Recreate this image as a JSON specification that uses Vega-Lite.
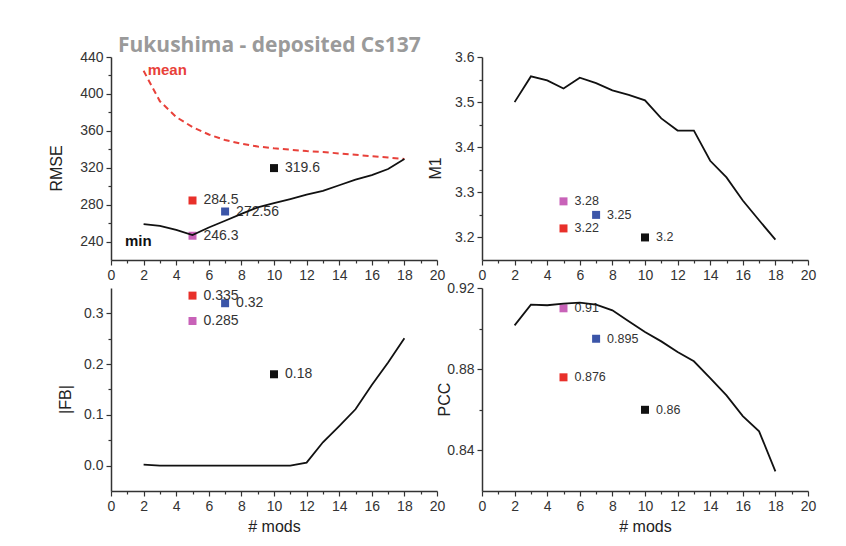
{
  "$schema": "https://vega.github.io/schema/vega-lite/v6.json",
  "background": "white",
  "padding": {"left": 48, "top": 35, "right": 5, "bottom": 5},
  "columns": 2,
  "spacing": {"row": 28, "column": 45},
  "bounds": "flush",
  "config": {
    "view": {"stroke": null},
    "font": "Liberation Sans",
    "axis": {
      "grid": false,
      "domainColor": "#333",
      "domainWidth": 1.5,
      "tickColor": "#333",
      "tickWidth": 1.2,
      "labelFont": "Liberation Sans",
      "labelFontSize": 14,
      "labelColor": "#333",
      "labelPadding": 3,
      "labelFlush": false,
      "labelOverlap": false,
      "titleFont": "Liberation Sans",
      "titleFontSize": 16,
      "titleFontWeight": "normal",
      "titleColor": "#222"
    },
    "axisY": {"titleY": 111}
  },
  "concat": [
    {
      "width": 326,
      "height": 203,
      "title": {"text": "Fukushima - deposited Cs137", "anchor": "start", "frame": "group", "dx": 7, "offset": -6, "font": "Open Sans", "fontSize": 21, "fontWeight": "bold", "color": "#9a9a9a"},
      "encoding": {
        "x": {"field": "n", "type": "quantitative", "scale": {"domain": [0, 20], "nice": false},
          "axis": {"values": [0,1,2,3,4,5,6,7,8,9,10,11,12,13,14,15,16,17,18,19,20], "labelExpr": "datum.value % 2 === 0 ? datum.label : ''", "tickSize": {"condition": {"test": "datum.value % 2 === 0", "value": 5}, "value": 3}, "title": null}},
        "y": {"field": "v", "type": "quantitative", "scale": {"domain": [220, 440], "nice": false, "zero": false},
          "axis": {"values": [240,260,280,300,320,340,360,380,400,420,440], "labelExpr": "datum.value % 40 === 0 ? datum.label : ''", "tickSize": {"condition": {"test": "datum.value % 40 === 0", "value": 5}, "value": 3}, "title": "RMSE", "titlePadding": 15}}
      },
      "layer": [
        {"data": {"values": [
          {"n": 5, "v": 284.5, "label": "284.5", "model": "red"},
          {"n": 7, "v": 272.56, "label": "272.56", "model": "blue"},
          {"n": 5, "v": 246.3, "label": "246.3", "model": "pink"},
          {"n": 10, "v": 319.6, "label": "319.6", "model": "black"}
        ]},
         "layer": [
           {"mark": {"type": "square", "size": 64, "opacity": 1}, "encoding": {"color": {"field": "model", "type": "nominal", "scale": {"domain": ["red", "blue", "pink", "black"], "range": ["#e8302a", "#3b55a8", "#c862b8", "#111111"]}, "legend": null}}},
           {"mark": {"type": "text", "align": "left", "baseline": "middle", "dx": 11, "fontSize": 14, "color": "#333"}, "encoding": {"text": {"field": "label"}}}
         ]},
        {"data": {"values": [
          {"n": 2, "v": 425}, {"n": 3, "v": 392}, {"n": 4, "v": 375}, {"n": 5, "v": 364}, {"n": 6, "v": 356}, {"n": 7, "v": 350}, {"n": 8, "v": 346}, {"n": 9, "v": 343}, {"n": 10, "v": 341}, {"n": 11, "v": 339.5}, {"n": 12, "v": 338}, {"n": 13, "v": 337}, {"n": 14, "v": 335.5}, {"n": 15, "v": 334}, {"n": 16, "v": 332.5}, {"n": 17, "v": 331}, {"n": 18, "v": 329.5}
        ]}, "mark": {"type": "line", "color": "#e8413a", "strokeDash": [6, 4], "strokeWidth": 2}},
        {"data": {"values": [
          {"n": 2, "v": 258.8}, {"n": 3, "v": 257}, {"n": 4, "v": 252.7}, {"n": 5, "v": 247}, {"n": 6, "v": 255.2}, {"n": 7, "v": 262.5}, {"n": 8, "v": 270}, {"n": 9, "v": 277}, {"n": 10, "v": 281.6}, {"n": 11, "v": 286}, {"n": 12, "v": 290.8}, {"n": 13, "v": 295}, {"n": 14, "v": 301}, {"n": 15, "v": 307}, {"n": 16, "v": 312}, {"n": 17, "v": 318.6}, {"n": 18, "v": 329.5}
        ]}, "mark": {"type": "line", "color": "#111", "strokeWidth": 1.8}},
        {"data": {"values": [{"n": 2.25, "v": 426, "note": "mean"}]}, "mark": {"type": "text", "align": "left", "baseline": "middle", "fontSize": 15, "fontWeight": "bold", "color": "#e8413a"}, "encoding": {"text": {"field": "note"}}},
        {"data": {"values": [{"n": 0.86, "v": 241, "note": "min"}]}, "mark": {"type": "text", "align": "left", "baseline": "middle", "fontSize": 15, "fontWeight": "bold", "color": "#111"}, "encoding": {"text": {"field": "note"}}}
      ]
    },
    {
      "width": 326,
      "height": 203,
      "encoding": {
        "x": {"field": "n", "type": "quantitative", "scale": {"domain": [0, 20], "nice": false},
          "axis": {"values": [0,1,2,3,4,5,6,7,8,9,10,11,12,13,14,15,16,17,18,19,20], "labelExpr": "datum.value % 2 === 0 ? datum.label : ''", "tickSize": {"condition": {"test": "datum.value % 2 === 0", "value": 5}, "value": 3}, "title": null}},
        "y": {"field": "v", "type": "quantitative", "scale": {"domain": [3.15, 3.6], "nice": false, "zero": false},
          "axis": {"values": [3.2,3.25,3.3,3.35,3.4,3.45,3.5,3.55,3.6], "format": ".1f", "labelExpr": "round(datum.value*100) % 10 === 0 ? datum.label : ''", "tickSize": {"condition": {"test": "round(datum.value*100) % 10 === 0", "value": 5}, "value": 3}, "title": "M1", "titlePadding": 11}}
      },
      "layer": [
        {"data": {"values": [
          {"n": 5, "v": 3.28, "label": "3.28", "model": "pink"},
          {"n": 7, "v": 3.25, "label": "3.25", "model": "blue"},
          {"n": 5, "v": 3.22, "label": "3.22", "model": "red"},
          {"n": 10, "v": 3.2, "label": "3.2", "model": "black"}
        ]},
         "layer": [
           {"mark": {"type": "square", "size": 64, "opacity": 1}, "encoding": {"color": {"field": "model", "type": "nominal", "legend": null}}},
           {"mark": {"type": "text", "align": "left", "baseline": "middle", "dx": 11, "fontSize": 12.5, "color": "#333"}, "encoding": {"text": {"field": "label"}}}
         ]},
        {"data": {"values": [
          {"n": 2, "v": 3.5}, {"n": 3, "v": 3.557}, {"n": 4, "v": 3.548}, {"n": 5, "v": 3.53}, {"n": 6, "v": 3.554}, {"n": 7, "v": 3.542}, {"n": 8, "v": 3.526}, {"n": 9, "v": 3.516}, {"n": 10, "v": 3.504}, {"n": 11, "v": 3.464}, {"n": 12, "v": 3.437}, {"n": 13, "v": 3.437}, {"n": 14, "v": 3.37}, {"n": 15, "v": 3.333}, {"n": 16, "v": 3.282}, {"n": 17, "v": 3.238}, {"n": 18, "v": 3.195}
        ]}, "mark": {"type": "line", "color": "#111", "strokeWidth": 1.8}}
      ]
    },
    {
      "width": 326,
      "height": 203,
      "encoding": {
        "x": {"field": "n", "type": "quantitative", "scale": {"domain": [0, 20], "nice": false},
          "axis": {"values": [0,1,2,3,4,5,6,7,8,9,10,11,12,13,14,15,16,17,18,19,20], "labelExpr": "datum.value % 2 === 0 ? datum.label : ''", "tickSize": {"condition": {"test": "datum.value % 2 === 0", "value": 5}, "value": 3}, "title": "# mods", "titlePadding": 5}},
        "y": {"field": "v", "type": "quantitative", "scale": {"domain": [-0.05, 0.35], "nice": false, "zero": false},
          "axis": {"values": [0,0.05,0.1,0.15,0.2,0.25,0.3], "format": ".1f", "labelExpr": "round(datum.value*100) % 10 === 0 ? datum.label : ''", "tickSize": {"condition": {"test": "round(datum.value*100) % 10 === 0", "value": 5}, "value": 3}, "title": "|FB|", "titlePadding": 10}}
      },
      "layer": [
        {"data": {"values": [
          {"n": 5, "v": 0.335, "label": "0.335", "model": "red"},
          {"n": 7, "v": 0.32, "label": "0.32", "model": "blue"},
          {"n": 5, "v": 0.285, "label": "0.285", "model": "pink"},
          {"n": 10, "v": 0.18, "label": "0.18", "model": "black"}
        ]},
         "layer": [
           {"mark": {"type": "square", "size": 64, "opacity": 1}, "encoding": {"color": {"field": "model", "type": "nominal", "legend": null}}},
           {"mark": {"type": "text", "align": "left", "baseline": "middle", "dx": 11, "fontSize": 14, "color": "#333"}, "encoding": {"text": {"field": "label"}}}
         ]},
        {"data": {"values": [
          {"n": 2, "v": 0.002}, {"n": 3, "v": 0}, {"n": 4, "v": 0}, {"n": 5, "v": 0}, {"n": 6, "v": 0}, {"n": 7, "v": 0}, {"n": 8, "v": 0}, {"n": 9, "v": 0}, {"n": 10, "v": 0}, {"n": 11, "v": 0}, {"n": 12, "v": 0.006}, {"n": 13, "v": 0.046}, {"n": 14, "v": 0.078}, {"n": 15, "v": 0.111}, {"n": 16, "v": 0.159}, {"n": 17, "v": 0.203}, {"n": 18, "v": 0.251}
        ]}, "mark": {"type": "line", "color": "#111", "strokeWidth": 1.8}}
      ]
    },
    {
      "width": 326,
      "height": 203,
      "encoding": {
        "x": {"field": "n", "type": "quantitative", "scale": {"domain": [0, 20], "nice": false},
          "axis": {"values": [0,1,2,3,4,5,6,7,8,9,10,11,12,13,14,15,16,17,18,19,20], "labelExpr": "datum.value % 2 === 0 ? datum.label : ''", "tickSize": {"condition": {"test": "datum.value % 2 === 0", "value": 5}, "value": 3}, "title": "# mods", "titlePadding": 5}},
        "y": {"field": "v", "type": "quantitative", "scale": {"domain": [0.82, 0.92], "nice": false, "zero": false},
          "axis": {"values": [0.84,0.86,0.88,0.9,0.92], "format": ".2f", "labelExpr": "round(datum.value*100) % 4 === 0 ? datum.label : ''", "tickSize": {"condition": {"test": "round(datum.value*100) % 4 === 0", "value": 5}, "value": 3}, "title": "PCC", "titlePadding": -6}}
      },
      "layer": [
        {"data": {"values": [
          {"n": 5, "v": 0.91, "label": "0.91", "model": "pink"},
          {"n": 7, "v": 0.895, "label": "0.895", "model": "blue"},
          {"n": 5, "v": 0.876, "label": "0.876", "model": "red"},
          {"n": 10, "v": 0.86, "label": "0.86", "model": "black"}
        ]},
         "layer": [
           {"mark": {"type": "square", "size": 64, "opacity": 1}, "encoding": {"color": {"field": "model", "type": "nominal", "legend": null}}},
           {"mark": {"type": "text", "align": "left", "baseline": "middle", "dx": 11, "fontSize": 12.5, "color": "#333"}, "encoding": {"text": {"field": "label"}}}
         ]},
        {"data": {"values": [
          {"n": 2, "v": 0.9016}, {"n": 3, "v": 0.9118}, {"n": 4, "v": 0.9115}, {"n": 5, "v": 0.9123}, {"n": 6, "v": 0.9128}, {"n": 7, "v": 0.9118}, {"n": 8, "v": 0.909}, {"n": 9, "v": 0.9036}, {"n": 10, "v": 0.8983}, {"n": 11, "v": 0.8937}, {"n": 12, "v": 0.8885}, {"n": 13, "v": 0.8839}, {"n": 14, "v": 0.8756}, {"n": 15, "v": 0.8671}, {"n": 16, "v": 0.8569}, {"n": 17, "v": 0.8494}, {"n": 18, "v": 0.8297}
        ]}, "mark": {"type": "line", "color": "#111", "strokeWidth": 1.8}}
      ]
    }
  ]
}
